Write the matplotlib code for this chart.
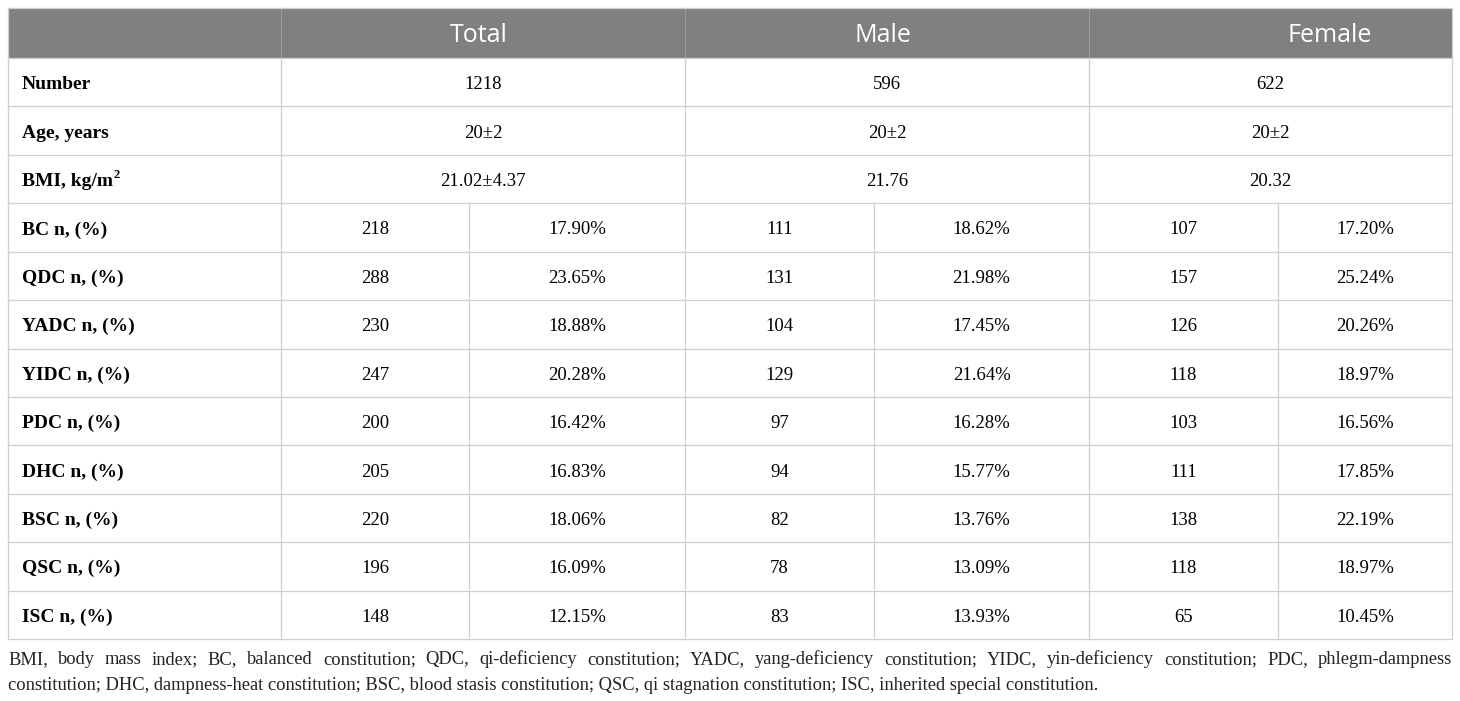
import matplotlib.pyplot as plt
from matplotlib.patches import Rectangle

# table content
groups = ["Total", "Male", "Female"]
number = ["1218", "596", "622"]
age = ["20±2", "20±2", "20±2"]
bmi = ["21.02±4.37", "21.76", "20.32"]

types = ["BC", "QDC", "YADC", "YIDC", "PDC", "DHC", "BSC", "QSC", "ISC"]
total_n = [218, 288, 230, 247, 200, 205, 220, 196, 148]
total_pct = [17.90, 23.65, 18.88, 20.28, 16.42, 16.83, 18.06, 16.09, 12.15]
male_n = [111, 131, 104, 129, 97, 94, 82, 78, 83]
male_pct = [18.62, 21.98, 17.45, 21.64, 16.28, 15.77, 13.76, 13.09, 13.93]
female_n = [107, 157, 126, 118, 103, 111, 138, 118, 65]
female_pct = [17.20, 25.24, 20.26, 18.97, 16.56, 17.85, 22.19, 18.97, 10.45]

note_line1 = ("BMI, body mass index; BC, balanced constitution; QDC, qi-deficiency constitution; "
              "YADC, yang-deficiency constitution; YIDC, yin-deficiency constitution; PDC, phlegm-dampness")
note_line2 = ("constitution; DHC, dampness-heat constitution; BSC, blood stasis constitution; "
              "QSC, qi stagnation constitution; ISC, inherited special constitution.")

# layout (pixels)
W, H = 1460, 701
x_edges = [8, 281, 685, 1089, 1452]
x_split = [469, 874, 1278]
top, head_bot, bottom = 8, 58, 639
n_rows = 3 + len(types)
row_h = (bottom - head_bot) / n_rows
grid = "#cfcfcf"
serif = "Liberation Serif"
fs = 13.5

fig = plt.figure(figsize=(W / 100, H / 100), dpi=100)
ax = fig.add_axes([0, 0, 1, 1])
ax.set_xlim(0, W)
ax.set_ylim(H, 0)
ax.axis("off")
renderer = fig.canvas.get_renderer()

# header
ax.add_patch(Rectangle((x_edges[0], top), x_edges[-1] - x_edges[0], head_bot - top,
                       facecolor="#808080", edgecolor="none"))
for x in x_edges[1:-1]:
    ax.plot([x, x], [top, head_bot], color="#9a9a9a", lw=0.8)
head_x = [(x_edges[1] + x_edges[2]) / 2 - 4, (x_edges[2] + x_edges[3]) / 2 - 4, 1330]
for g, hx in zip(groups, head_x):
    ax.text(hx, 42, g, ha="center", va="baseline", color="white",
            fontsize=18, family="Open Sans")

# body grid
ax.plot([x_edges[0], x_edges[-1], x_edges[-1], x_edges[0], x_edges[0]],
        [top, top, bottom, bottom, top], color=grid, lw=0.9)
for i in range(n_rows):
    y = head_bot + i * row_h
    ax.plot([x_edges[0], x_edges[-1]], [y, y], color=grid, lw=0.9)
for x in x_edges[1:-1]:
    ax.plot([x, x], [head_bot, bottom], color=grid, lw=0.9)
for x in x_split:
    ax.plot([x, x], [head_bot + 3 * row_h, bottom], color=grid, lw=0.9)

def yb(i):
    # text baseline of row i
    return head_bot + (i + 0.5) * row_h + 7

labels = ["Number", "Age, years", "BMI, kg/m"]
for i, (lab, vals) in enumerate(zip(labels, [number, age, bmi])):
    t = ax.text(22, yb(i), lab, ha="left", va="baseline", fontsize=fs + 0.5,
                family=serif, weight="bold")
    if i == 2:
        ext = t.get_window_extent(renderer)
        ax.text(22 + ext.width + 0.5, yb(i) - 8, "2", ha="left", va="baseline",
                fontsize=9, family=serif, weight="bold")
    for j, v in enumerate(vals):
        ax.text((x_edges[j + 1] + x_edges[j + 2]) / 2, yb(i), v, ha="center",
                va="baseline", fontsize=fs, family=serif)

counts = [total_n, male_n, female_n]
pcts = [total_pct, male_pct, female_pct]
for k, t in enumerate(types):
    i = k + 3
    ax.text(22, yb(i), f"{t} n, (%)", ha="left", va="baseline", fontsize=fs + 0.5,
            family=serif, weight="bold")
    for j in range(3):
        left, mid, right = x_edges[j + 1], x_split[j], x_edges[j + 2]
        ax.text((left + mid) / 2, yb(i), str(counts[j][k]), ha="center", va="baseline",
                fontsize=fs, family=serif)
        ax.text((mid + right) / 2, yb(i), f"{pcts[j][k]:.2f}%", ha="center", va="baseline",
                fontsize=fs, family=serif)

# footnote, first line justified
note_fs = 13.3
words = note_line1.split(" ")
arts = [ax.text(0, 664, w, ha="left", va="baseline", fontsize=note_fs, family=serif,
                color="#222222") for w in words]
widths = [a.get_window_extent(renderer).width for a in arts]
gap = (x_edges[-1] - x_edges[0] - sum(widths)) / (len(words) - 1)
x = x_edges[0]
for a, w in zip(arts, widths):
    a.set_x(x)
    x += w + gap
ax.text(x_edges[0], 690, note_line2, ha="left", va="baseline", fontsize=note_fs,
        family=serif, color="#222222")

fig.savefig("out.png", dpi=100)
